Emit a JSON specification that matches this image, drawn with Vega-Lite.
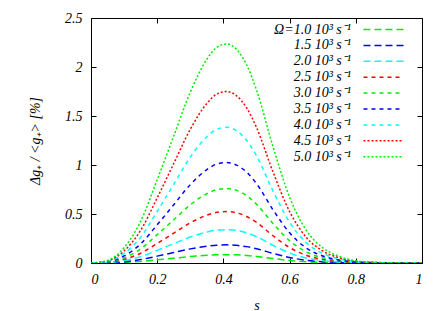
{
  "$schema": "https://vega.github.io/schema/vega-lite/v6.json",
  "width": 331,
  "height": 245,
  "autosize": {"type": "none"},
  "padding": {"left": 91, "top": 18, "right": 22, "bottom": 48},
  "background": "white",
  "config": {
    "view": {"stroke": "black", "strokeWidth": 1},
    "axis": {
      "labelFont": "Liberation Serif", "labelFontStyle": "italic", "labelFontSize": 14, "labelColor": "black",
      "titleFont": "Liberation Serif", "titleFontStyle": "italic", "titleFontWeight": "normal", "titleFontSize": 14, "titleColor": "black",
      "grid": false, "domain": false, "tickColor": "black", "tickSize": -5, "format": "~g"
    }
  },
  "data": {"values": [
    {"k":"1.0","s":0,"v":0},{"k":"1.0","s":0.05,"v":0.001},{"k":"1.0","s":0.1,"v":0.006},{"k":"1.0","s":0.15,"v":0.016},{"k":"1.0","s":0.2,"v":0.032},{"k":"1.0","s":0.25,"v":0.049},{"k":"1.0","s":0.3,"v":0.066},{"k":"1.0","s":0.35,"v":0.079},{"k":"1.0","s":0.38,"v":0.084},{"k":"1.0","s":0.41,"v":0.085},{"k":"1.0","s":0.44,"v":0.083},{"k":"1.0","s":0.47,"v":0.077},{"k":"1.0","s":0.5,"v":0.067},{"k":"1.0","s":0.55,"v":0.045},{"k":"1.0","s":0.6,"v":0.026},{"k":"1.0","s":0.65,"v":0.013},{"k":"1.0","s":0.7,"v":0.006},{"k":"1.0","s":0.75,"v":0.003},{"k":"1.0","s":0.8,"v":0.001},{"k":"1.0","s":0.85,"v":0},{"k":"1.0","s":0.9,"v":0},{"k":"1.0","s":1,"v":0},
    {"k":"1.5","s":0,"v":0},{"k":"1.5","s":0.05,"v":0.002},{"k":"1.5","s":0.1,"v":0.013},{"k":"1.5","s":0.15,"v":0.035},{"k":"1.5","s":0.2,"v":0.07},{"k":"1.5","s":0.25,"v":0.107},{"k":"1.5","s":0.3,"v":0.144},{"k":"1.5","s":0.35,"v":0.172},{"k":"1.5","s":0.38,"v":0.182},{"k":"1.5","s":0.41,"v":0.185},{"k":"1.5","s":0.44,"v":0.18},{"k":"1.5","s":0.47,"v":0.167},{"k":"1.5","s":0.5,"v":0.146},{"k":"1.5","s":0.55,"v":0.098},{"k":"1.5","s":0.6,"v":0.056},{"k":"1.5","s":0.65,"v":0.028},{"k":"1.5","s":0.7,"v":0.013},{"k":"1.5","s":0.75,"v":0.006},{"k":"1.5","s":0.8,"v":0.002},{"k":"1.5","s":0.85,"v":0.001},{"k":"1.5","s":0.9,"v":0},{"k":"1.5","s":1,"v":0},
    {"k":"2.0","s":0,"v":0},{"k":"2.0","s":0.05,"v":0.004},{"k":"2.0","s":0.1,"v":0.024},{"k":"2.0","s":0.15,"v":0.065},{"k":"2.0","s":0.2,"v":0.129},{"k":"2.0","s":0.25,"v":0.197},{"k":"2.0","s":0.3,"v":0.265},{"k":"2.0","s":0.35,"v":0.316},{"k":"2.0","s":0.38,"v":0.335},{"k":"2.0","s":0.41,"v":0.34},{"k":"2.0","s":0.44,"v":0.332},{"k":"2.0","s":0.47,"v":0.308},{"k":"2.0","s":0.5,"v":0.269},{"k":"2.0","s":0.55,"v":0.18},{"k":"2.0","s":0.6,"v":0.102},{"k":"2.0","s":0.65,"v":0.051},{"k":"2.0","s":0.7,"v":0.024},{"k":"2.0","s":0.75,"v":0.01},{"k":"2.0","s":0.8,"v":0.003},{"k":"2.0","s":0.85,"v":0.001},{"k":"2.0","s":0.9,"v":0},{"k":"2.0","s":1,"v":0},
    {"k":"2.5","s":0,"v":0},{"k":"2.5","s":0.05,"v":0.006},{"k":"2.5","s":0.1,"v":0.037},{"k":"2.5","s":0.15,"v":0.1},{"k":"2.5","s":0.2,"v":0.2},{"k":"2.5","s":0.25,"v":0.305},{"k":"2.5","s":0.3,"v":0.41},{"k":"2.5","s":0.35,"v":0.488},{"k":"2.5","s":0.38,"v":0.517},{"k":"2.5","s":0.41,"v":0.525},{"k":"2.5","s":0.44,"v":0.512},{"k":"2.5","s":0.47,"v":0.475},{"k":"2.5","s":0.5,"v":0.415},{"k":"2.5","s":0.55,"v":0.278},{"k":"2.5","s":0.6,"v":0.158},{"k":"2.5","s":0.65,"v":0.079},{"k":"2.5","s":0.7,"v":0.037},{"k":"2.5","s":0.75,"v":0.016},{"k":"2.5","s":0.8,"v":0.005},{"k":"2.5","s":0.85,"v":0.002},{"k":"2.5","s":0.9,"v":0.001},{"k":"2.5","s":1,"v":0},
    {"k":"3.0","s":0,"v":0},{"k":"3.0","s":0.05,"v":0.009},{"k":"3.0","s":0.1,"v":0.053},{"k":"3.0","s":0.15,"v":0.144},{"k":"3.0","s":0.2,"v":0.289},{"k":"3.0","s":0.25,"v":0.441},{"k":"3.0","s":0.3,"v":0.593},{"k":"3.0","s":0.35,"v":0.707},{"k":"3.0","s":0.38,"v":0.749},{"k":"3.0","s":0.41,"v":0.76},{"k":"3.0","s":0.44,"v":0.741},{"k":"3.0","s":0.47,"v":0.688},{"k":"3.0","s":0.5,"v":0.6},{"k":"3.0","s":0.55,"v":0.403},{"k":"3.0","s":0.6,"v":0.228},{"k":"3.0","s":0.65,"v":0.114},{"k":"3.0","s":0.7,"v":0.053},{"k":"3.0","s":0.75,"v":0.023},{"k":"3.0","s":0.8,"v":0.008},{"k":"3.0","s":0.85,"v":0.003},{"k":"3.0","s":0.9,"v":0.001},{"k":"3.0","s":1,"v":0},
    {"k":"3.5","s":0,"v":0},{"k":"3.5","s":0.05,"v":0.012},{"k":"3.5","s":0.1,"v":0.072},{"k":"3.5","s":0.15,"v":0.195},{"k":"3.5","s":0.2,"v":0.39},{"k":"3.5","s":0.25,"v":0.595},{"k":"3.5","s":0.3,"v":0.8},{"k":"3.5","s":0.35,"v":0.953},{"k":"3.5","s":0.38,"v":1.01},{"k":"3.5","s":0.41,"v":1.025},{"k":"3.5","s":0.44,"v":0.999},{"k":"3.5","s":0.47,"v":0.928},{"k":"3.5","s":0.5,"v":0.81},{"k":"3.5","s":0.55,"v":0.543},{"k":"3.5","s":0.6,"v":0.308},{"k":"3.5","s":0.65,"v":0.154},{"k":"3.5","s":0.7,"v":0.072},{"k":"3.5","s":0.75,"v":0.031},{"k":"3.5","s":0.8,"v":0.01},{"k":"3.5","s":0.85,"v":0.004},{"k":"3.5","s":0.9,"v":0.001},{"k":"3.5","s":1,"v":0},
    {"k":"4.0","s":0,"v":0},{"k":"4.0","s":0.05,"v":0.017},{"k":"4.0","s":0.1,"v":0.097},{"k":"4.0","s":0.15,"v":0.263},{"k":"4.0","s":0.2,"v":0.526},{"k":"4.0","s":0.25,"v":0.803},{"k":"4.0","s":0.3,"v":1.08},{"k":"4.0","s":0.35,"v":1.288},{"k":"4.0","s":0.38,"v":1.364},{"k":"4.0","s":0.41,"v":1.385},{"k":"4.0","s":0.44,"v":1.35},{"k":"4.0","s":0.47,"v":1.253},{"k":"4.0","s":0.5,"v":1.094},{"k":"4.0","s":0.55,"v":0.734},{"k":"4.0","s":0.6,"v":0.416},{"k":"4.0","s":0.65,"v":0.208},{"k":"4.0","s":0.7,"v":0.097},{"k":"4.0","s":0.75,"v":0.042},{"k":"4.0","s":0.8,"v":0.014},{"k":"4.0","s":0.85,"v":0.006},{"k":"4.0","s":0.9,"v":0.001},{"k":"4.0","s":1,"v":0},
    {"k":"4.5","s":0,"v":0},{"k":"4.5","s":0.05,"v":0.021},{"k":"4.5","s":0.1,"v":0.123},{"k":"4.5","s":0.15,"v":0.333},{"k":"4.5","s":0.2,"v":0.665},{"k":"4.5","s":0.25,"v":1.015},{"k":"4.5","s":0.3,"v":1.365},{"k":"4.5","s":0.35,"v":1.628},{"k":"4.5","s":0.38,"v":1.724},{"k":"4.5","s":0.41,"v":1.75},{"k":"4.5","s":0.44,"v":1.706},{"k":"4.5","s":0.47,"v":1.584},{"k":"4.5","s":0.5,"v":1.383},{"k":"4.5","s":0.55,"v":0.928},{"k":"4.5","s":0.6,"v":0.525},{"k":"4.5","s":0.65,"v":0.263},{"k":"4.5","s":0.7,"v":0.123},{"k":"4.5","s":0.75,"v":0.053},{"k":"4.5","s":0.8,"v":0.018},{"k":"4.5","s":0.85,"v":0.007},{"k":"4.5","s":0.9,"v":0.002},{"k":"4.5","s":1,"v":0},
    {"k":"5.0","s":0,"v":0},{"k":"5.0","s":0.05,"v":0.027},{"k":"5.0","s":0.1,"v":0.156},{"k":"5.0","s":0.15,"v":0.425},{"k":"5.0","s":0.2,"v":0.849},{"k":"5.0","s":0.25,"v":1.296},{"k":"5.0","s":0.3,"v":1.743},{"k":"5.0","s":0.35,"v":2.079},{"k":"5.0","s":0.38,"v":2.201},{"k":"5.0","s":0.41,"v":2.235},{"k":"5.0","s":0.44,"v":2.179},{"k":"5.0","s":0.47,"v":2.023},{"k":"5.0","s":0.5,"v":1.766},{"k":"5.0","s":0.55,"v":1.185},{"k":"5.0","s":0.6,"v":0.671},{"k":"5.0","s":0.65,"v":0.335},{"k":"5.0","s":0.7,"v":0.156},{"k":"5.0","s":0.75,"v":0.067},{"k":"5.0","s":0.8,"v":0.022},{"k":"5.0","s":0.85,"v":0.009},{"k":"5.0","s":0.9,"v":0.002},{"k":"5.0","s":1,"v":0}
  ]},
  "layer": [
    {
      "mark": {"type": "line", "interpolate": "monotone", "strokeWidth": 1.5, "clip": true},
      "encoding": {
        "x": {"field": "s", "type": "quantitative", "scale": {"domain": [0, 1], "nice": false},
              "axis": {"values": [0, 0.2, 0.4, 0.6, 0.8, 1], "title": "s", "titlePadding": 12, "labelPadding": 14}},
        "y": {"field": "v", "type": "quantitative", "scale": {"domain": [0, 2.5], "nice": false},
              "axis": {"values": [0, 0.5, 1, 1.5, 2, 2.5], "title": "Δg₊ / <g₊> [%]", "titlePadding": 22, "labelPadding": 14}},
        "color": {"field": "k", "type": "nominal",
          "scale": {"domain": ["1.0","1.5","2.0","2.5","3.0","3.5","4.0","4.5","5.0"],
                    "range": ["#00ee00","#0000ff","#00ffff","#ff0000","#00ee00","#0000ff","#00ffff","#ff0000","#00ee00"]},
          "legend": {"orient": "none", "legendX": 285, "legendY": 4, "title": null, "labelAlign": "right", "labelOffset": -40, "padding": 0,
                     "symbolType": "M-3,0H3", "symbolSize": 178, "symbolStrokeWidth": 1.5, "symbolFillColor": "transparent", "rowPadding": 0.9,
                     "labelFont": "Liberation Serif", "labelFontStyle": "italic", "labelFontSize": 14, "labelColor": "black", "labelLimit": 300,
                     "labelExpr": "(datum.label == '1.0' ? 'Ω=' : '') + datum.label + ' 10³ s⁻¹'"}},
        "strokeDash": {"field": "k", "type": "nominal",
          "scale": {"domain": ["1.0","1.5","2.0","2.5","3.0","3.5","4.0","4.5","5.0"],
                    "range": [[7,4],[7,4],[7,4],[4,4],[4,4],[4,4],[4,4],[2,2],[2,2]]},
          "legend": {"orient": "none", "legendX": 285, "legendY": 4, "title": null, "labelAlign": "right", "labelOffset": -40, "padding": 0,
                     "symbolType": "M-3,0H3", "symbolSize": 178, "symbolStrokeWidth": 1.5, "symbolFillColor": "transparent", "rowPadding": 0.9,
                     "labelFont": "Liberation Serif", "labelFontStyle": "italic", "labelFontSize": 14, "labelColor": "black", "labelLimit": 300,
                     "labelExpr": "(datum.label == '1.0' ? 'Ω=' : '') + datum.label + ' 10³ s⁻¹'"}}
      }
    },
    {
      "mark": {"type": "line", "opacity": 0},
      "encoding": {
        "x": {"field": "s", "type": "quantitative", "axis": {"orient": "top", "values": [0, 0.2, 0.4, 0.6, 0.8, 1], "labels": false, "title": null}},
        "y": {"field": "v", "type": "quantitative", "axis": {"orient": "right", "values": [0, 0.5, 1, 1.5, 2, 2.5], "labels": false, "title": null}},
        "detail": {"field": "k"}
      }
    }
  ],
  "resolve": {"axis": {"x": "independent", "y": "independent"}}
}
